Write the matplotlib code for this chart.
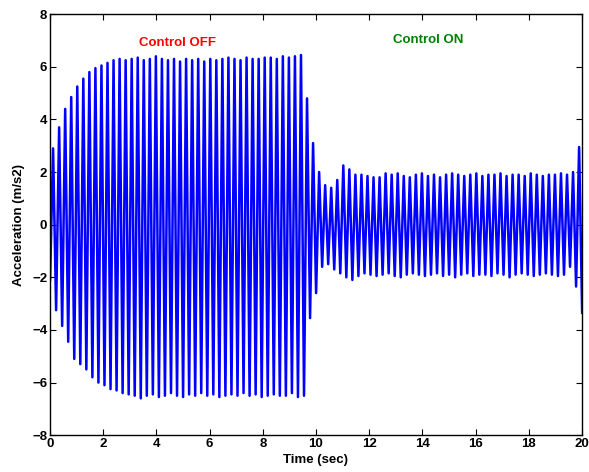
import numpy as np
import matplotlib
matplotlib.use('Agg')
import matplotlib.pyplot as plt

plt.rcParams['font.family'] = ['Liberation Sans', 'DejaVu Sans']
plt.rcParams['font.weight'] = 'bold'

# sampling step between successive extrema (sec)
dt = 0.11368

# extrema, control off (0 - 9.6 s)
peaks_off = [2.9, 3.7, 4.4, 4.85, 5.25, 5.55, 5.8, 5.95, 6.05, 6.15, 6.25, 6.3,
             6.25, 6.3, 6.35, 6.25, 6.3, 6.4, 6.3, 6.25, 6.3, 6.2, 6.3, 6.25,
             6.3, 6.2, 6.3, 6.25, 6.3, 6.35, 6.3, 6.25, 6.35, 6.3, 6.3, 6.35,
             6.35, 6.3, 6.4, 6.35, 6.4, 6.45]
troughs_off = [-2.1, -3.25, -3.85, -4.45, -5.1, -5.3, -5.5, -5.8, -6.0, -6.1,
               -6.25, -6.3, -6.4, -6.45, -6.5, -6.6, -6.5, -6.45, -6.55, -6.5,
               -6.4, -6.5, -6.55, -6.45, -6.5, -6.4, -6.5, -6.45, -6.55, -6.5,
               -6.45, -6.5, -6.4, -6.5, -6.45, -6.55, -6.5, -6.45, -6.5, -6.5,
               -6.4, -6.55, -6.5]

# extrema, control on (9.6 - 20 s)
peaks_on = [4.8, 3.1, 2.0, 1.5, 1.4, 1.7, 2.25, 2.1, 1.9, 1.9, 1.85, 1.8,
            1.8, 1.95, 1.9, 1.95, 1.85, 1.8, 1.9, 1.95, 1.85, 1.9, 1.8, 1.9,
            1.95, 1.9, 1.85, 1.9, 1.95, 1.85, 1.9, 1.9, 1.95, 1.85, 1.9, 1.9,
            1.85, 1.95, 1.9, 1.85, 1.9, 1.9, 1.95, 1.9, 2.0, 2.95]
troughs_on = [-3.55, -2.6, -1.6, -1.5, -1.7, -1.85, -2.0, -2.1, -1.95, -1.85,
              -1.9, -1.95, -1.9, -1.85, -1.95, -2.0, -1.9, -1.85, -1.9, -1.95,
              -1.9, -1.85, -1.95, -1.9, -2.0, -1.9, -1.85, -1.95, -1.9, -1.9,
              -1.95, -1.85, -1.9, -2.0, -1.9, -1.85, -1.9, -1.95, -1.9, -1.85,
              -1.9, -1.95, -1.9, -1.6, -2.35, -3.35]

xticks = [0, 2, 4, 6, 8, 10, 12, 14, 16, 18, 20]
yticks = [-8, -6, -4, -2, 0, 2, 4, 6, 8]

# interleave troughs and peaks
off = np.empty(len(peaks_off) + len(troughs_off))
off[0::2] = troughs_off
off[1::2] = peaks_off
on = np.empty(len(peaks_on) + len(troughs_on))
on[0::2] = peaks_on
on[1::2] = troughs_on
accel = np.concatenate([off, on])
t = np.arange(len(accel)) * dt

fig = plt.figure(figsize=(5.89, 4.72), dpi=100)
ax = fig.add_axes([0.085, 0.078, 0.903, 0.892])
ax.plot(t, accel, color='#0000ff', linewidth=1.8)

ax.set_xlim(0, 20)
ax.set_ylim(-8, 8)
ax.set_xticks(xticks)
ax.set_yticks(yticks)
ax.tick_params(direction='in', top=True, right=True, labelsize=9.5, length=4, pad=2)
for lbl in ax.get_xticklabels() + ax.get_yticklabels():
    lbl.set_fontweight('bold')
for s in ax.spines.values():
    s.set_linewidth(1.0)

ax.set_xlabel('Time (sec)', fontsize=9.5, fontweight='bold', labelpad=3)
ax.set_ylabel('Acceleration (m/s2)', fontsize=9.5, fontweight='bold', labelpad=5)

ax.text(4.8, 6.9, 'Control OFF', color='#ff0000', fontsize=9.5, fontweight='bold', ha='center', va='center')
ax.text(14.2, 7.0, 'Control ON', color='#008000', fontsize=9.5, fontweight='bold', ha='center', va='center')

fig.savefig('out.png', dpi=100)
